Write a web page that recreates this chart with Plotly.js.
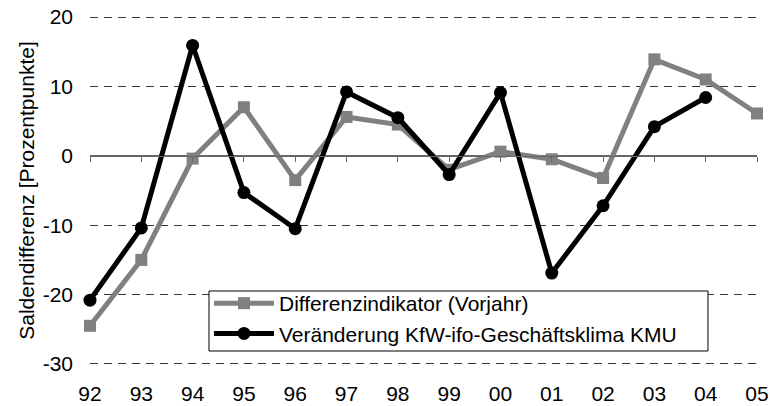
<!DOCTYPE html>
<html>
<head>
<meta charset="utf-8">
<script src="https://cdn.plot.ly/plotly-3.0.1.min.js"></script>
<style>html,body{margin:0;padding:0;background:#fff;}#chart{width:770px;height:406px;}</style>
</head>
<body>
<div id="chart"></div>
<script>
const years = ["92","93","94","95","96","97","98","99","00","01","02","03","04","05"];
const differenzindikator = [-24.5, -15.0, -0.4, 7.0, -3.5, 5.6, 4.5, -2.0, 0.6, -0.5, -3.2, 13.9, 11.0, 6.1];
const kfwIfo = [-20.8, -10.4, 15.9, -5.3, -10.5, 9.2, 5.5, -2.7, 9.1, -16.9, -7.2, 4.2, 8.4, null];
const yTicks = [-30, -20, -10, 0, 10, 20];
const yTickLabels = ["-30", "-20", "-10", "0", "10", "20"];

const xIdx = years.map((_, i) => i);

const traces = [
  {
    x: xIdx, y: differenzindikator, name: "Differenzindikator (Vorjahr)",
    type: "scatter", mode: "lines+markers", cliponaxis: false,
    line: {color: "#808080", width: 5},
    marker: {symbol: "square", size: 12, color: "#808080"}
  },
  {
    x: xIdx, y: kfwIfo, name: "Veränderung KfW-ifo-Geschäftsklima KMU",
    type: "scatter", mode: "lines+markers", cliponaxis: false,
    line: {color: "#000000", width: 5},
    marker: {symbol: "circle", size: 13, color: "#000000"}
  },
  {x: [0], y: [0], xaxis: "x2", yaxis: "y", mode: "markers",
   marker: {opacity: 0}, showlegend: false, hoverinfo: "skip"}
];

const layout = {
  width: 770, height: 406,
  margin: {l: 90, r: 13, t: 15, b: 40},
  paper_bgcolor: "#fff", plot_bgcolor: "#fff",
  font: {family: "Liberation Sans, Arial, sans-serif", size: 21, color: "#000"},
  showlegend: true,
  legend: {
    x: 0.1784, y: 0.2365, xanchor: "left", yanchor: "top",
    borderwidth: 0, bgcolor: "rgba(0,0,0,0)",
    font: {size: 21}, tracegroupgap: 0, itemwidth: 60
  },
  shapes: [{
    type: "rect", xref: "paper", yref: "paper",
    x0: 0.1784, x1: 0.9265, y0: 0.0427, y1: 0.2137,
    line: {color: "#000", width: 1}, fillcolor: "#fff", layer: "above"
  }],
  xaxis: {
    range: [0, 13], tickvals: xIdx, ticktext: years,
    showgrid: false, zeroline: false, showline: false, ticks: "",
    ticklabelstandoff: 13, fixedrange: true
  },
  xaxis2: {
    overlaying: "x", anchor: "free", position: 0.5983, range: [0, 13],
    tickvals: xIdx, showticklabels: false, ticks: "outside", ticklen: 5,
    tickcolor: "#666", showline: true, linecolor: "#666", linewidth: 1,
    showgrid: false, zeroline: false
  },
  yaxis: {
    range: [-30.29, 20.29], tickvals: yTicks, ticktext: yTickLabels,
    showgrid: true, gridcolor: "#333", griddash: "8px,6px", gridwidth: 1,
    zeroline: true, zerolinecolor: "#666", zerolinewidth: 1,
    showline: false, ticks: "",
    ticklabelstandoff: 16,
    title: {text: "Saldendifferenz [Prozentpunkte]", font: {size: 21}, standoff: 2}
  }
};

Plotly.newPlot("chart", traces, layout, {displayModeBar: false, staticPlot: true});
</script>
</body>
</html>
